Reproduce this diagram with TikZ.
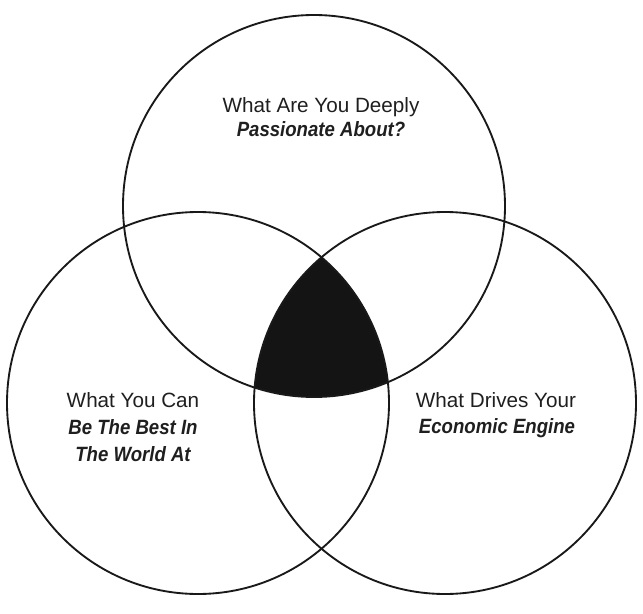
\documentclass[tikz,border=0pt]{standalone}
\usepackage{fontspec}
\setmainfont[FakeStretch=1.0]{Liberation Sans}
\newfontfamily\embf[FakeStretch=0.9]{Liberation Sans}
\begin{document}
\begin{tikzpicture}[x=0.75pt,y=-0.75pt,
  ring/.style={draw=black!90,line width=1.4pt,circle,minimum size=286.5pt,inner sep=0pt},
  lbl/.style={align=center,font=\fontsize{15.5}{18}\selectfont,text=black!88,inner sep=0pt,anchor=base},
  em/.style={lbl,font=\fontsize{15.5}{18}\selectfont\embf\bfseries\itshape}]
\useasboundingbox (0,0) rectangle (643,614);
\coordinate (ct) at (314,206);
\coordinate (cl) at (198,403);
\coordinate (cr) at (445,403);
\begin{scope}
  \clip (ct) circle (191);
  \clip (cl) circle (191);
  \fill[black!92] (cr) circle (191);
\end{scope}
\node[ring] (top) at (ct) {};
\node[ring] (left) at (cl) {};
\node[ring] (right) at (cr) {};
\node[lbl] (t1) at (321,112) {What Are You Deeply};
\node[em] (t2) at (321,136) {Passionate About?};
\node[lbl] (l1) at (133,407) {What You Can};
\node[em] (l2) at (133,434) {Be The Best In};
\node[em] (l3) at (133,461) {The World At};
\node[lbl] (r1) at (496,407) {What Drives Your};
\node[em] (r2) at (497,433) {Economic Engine};
\end{tikzpicture}
\end{document}
